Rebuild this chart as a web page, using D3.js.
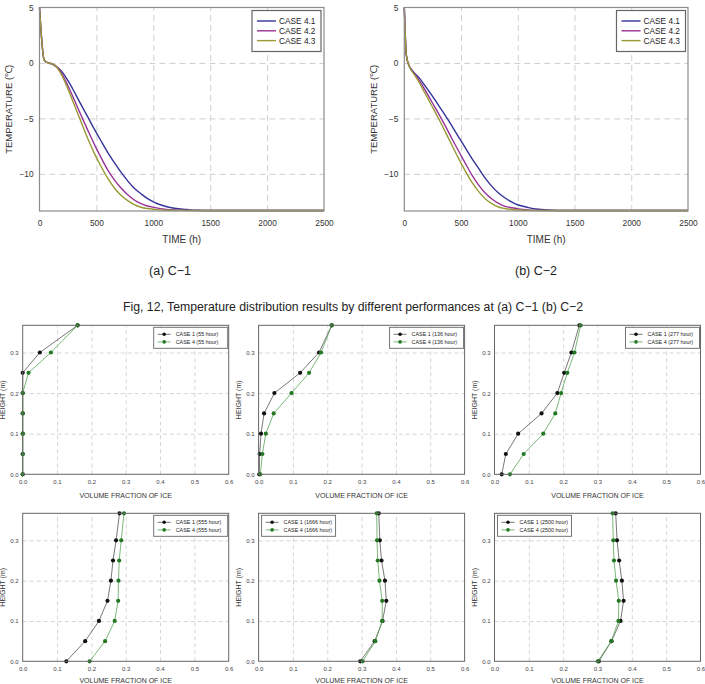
<!DOCTYPE html>
<html>
<head>
<meta charset="utf-8">
<script src="https://cdn.jsdelivr.net/npm/d3@7"></script>
<style>
  body { margin: 0; background: #fff; }
  svg { display: block; }
  text { font-family: "Liberation Sans", Arial, sans-serif; }
</style>
</head>
<body>
<svg id="chart" width="705" height="684"></svg>
<script>
/* DATA */
const tempCases = ['CASE 4.1', 'CASE 4.2', 'CASE 4.3'];
const tempTicks = [5, 0, -5, -10];
const timeTicks = [0, 500, 1000, 1500, 2000, 2500];

// (a) C-1
const timeC1 = [0, 40, 70, 100, 132, 190, 249, 307, 365, 424, 482, 541, 599, 658, 716, 775, 833, 892, 950, 1009, 1096, 1184, 1301, 1389, 1500, 2000, 2500];
const c1Case41 = [5, 0.3, 0.02, -0.05, -0.24, -0.69, -1.58, -2.63, -3.76, -4.87, -5.97, -7.04, -8.06, -8.99, -9.85, -10.63, -11.3, -11.8, -12.24, -12.57, -12.9, -13.1, -13.22, -13.28, -13.3, -13.3, -13.3];
const c1Case42 = [5, 0.3, 0.02, -0.05, -0.18, -0.84, -2.03, -3.37, -4.72, -6.06, -7.34, -8.54, -9.64, -10.54, -11.28, -11.88, -12.36, -12.69, -12.9, -13.03, -13.19, -13.26, -13.29, -13.3, -13.3, -13.3, -13.3];
const c1Case43 = [5, 0.3, 0.02, -0.05, -0.2, -0.99, -2.33, -3.82, -5.31, -6.81, -8.15, -9.34, -10.39, -11.28, -11.94, -12.42, -12.78, -13.01, -13.13, -13.2, -13.27, -13.29, -13.3, -13.3, -13.3, -13.3, -13.3];

// (b) C-2
const timeC2 = [0, 18, 38, 67, 97, 126, 185, 243, 302, 361, 419, 478, 537, 595, 654, 713, 772, 830, 889, 948, 1006, 1094, 1182, 1299, 1400, 2000, 2500];
const c2Case41 = [5, 0.7, -0.15, -0.62, -0.99, -1.28, -2.09, -2.93, -3.82, -4.72, -5.67, -6.66, -7.64, -8.6, -9.49, -10.39, -11.13, -11.73, -12.18, -12.54, -12.81, -13.04, -13.19, -13.28, -13.3, -13.3, -13.3];
const c2Case42 = [5, 0.7, -0.15, -0.69, -1.07, -1.49, -2.48, -3.52, -4.57, -5.67, -6.81, -7.94, -9.04, -10.09, -10.99, -11.73, -12.27, -12.66, -12.93, -13.06, -13.16, -13.25, -13.28, -13.3, -13.3, -13.3, -13.3];
const c2Case43 = [5, 0.7, -0.15, -0.75, -1.19, -1.67, -2.78, -3.88, -5.01, -6.21, -7.4, -8.6, -9.73, -10.75, -11.58, -12.24, -12.69, -12.99, -13.13, -13.22, -13.26, -13.29, -13.3, -13.3, -13.3, -13.3, -13.3];

// volume fraction of ice profiles
const heights = [0, 0.05, 0.1, 0.15, 0.2, 0.25, 0.3, 0.367];
const heightTicks = [0, 0.1, 0.2, 0.3];
const iceTicks = [0, 0.1, 0.2, 0.3, 0.4, 0.5, 0.6];
const hours = ['55', '136', '277', '555', '1666', '2500'];
const case1_55 = [0, 0, 0, 0, 0, 0, 0.05, 0.16];
const case4_55 = [0, 0, 0, 0, 0, 0.017, 0.082, 0.16];
const case1_136 = [0.002, 0.003, 0.007, 0.016, 0.046, 0.121, 0.176, 0.213];
const case4_136 = [0.005, 0.011, 0.021, 0.044, 0.096, 0.147, 0.182, 0.213];
const case1_277 = [0.021, 0.033, 0.069, 0.137, 0.183, 0.203, 0.224, 0.247];
const case4_277 = [0.045, 0.085, 0.142, 0.177, 0.194, 0.212, 0.233, 0.251];
const case1_555 = [0.127, 0.182, 0.222, 0.247, 0.257, 0.263, 0.272, 0.282];
const case4_555 = [0.195, 0.24, 0.268, 0.278, 0.279, 0.281, 0.287, 0.295];
const case1_1666 = [0.296, 0.338, 0.361, 0.372, 0.368, 0.358, 0.353, 0.35];
const case4_1666 = [0.303, 0.34, 0.36, 0.36, 0.352, 0.347, 0.345, 0.344];
const case1_2500 = [0.304, 0.341, 0.367, 0.376, 0.371, 0.363, 0.357, 0.353];
const case4_2500 = [0.301, 0.34, 0.361, 0.362, 0.354, 0.348, 0.346, 0.344];

const tempColors = ['#333399', '#993399', '#999933'];

const svg = d3.select('#chart');
svg.append('rect').attr('width', 705).attr('height', 684).attr('fill', '#fff');

/* TEMPERATURE CHARTS */
function drawTemp(x0, x1, times, series, yTitleX, legendX) {
  const top = 7.5, bottom = 211;
  const x = d3.scaleLinear().domain([0, 2500]).range([x0, x1]);
  const y = d3.scaleLinear().domain([-13.35, 5]).range([bottom, top]);
  const g = svg.append('g');

  // grid
  g.append('g')
    .attr('transform', `translate(0,${bottom})`)
    .call(d3.axisBottom(x).tickValues(timeTicks.slice(1, -1)).tickSize(-(bottom - top)).tickFormat(''))
    .call(a => a.select('.domain').remove())
    .selectAll('line').attr('stroke', '#cfcfcf').attr('stroke-dasharray', '6,4');
  g.append('g')
    .attr('transform', `translate(${x0},0)`)
    .call(d3.axisLeft(y).tickValues([0, -5, -10]).tickSize(-(x1 - x0)).tickFormat(''))
    .call(a => a.select('.domain').remove())
    .selectAll('line').attr('stroke', '#cfcfcf').attr('stroke-dasharray', '6,4');

  // tick labels
  g.append('g')
    .attr('transform', `translate(0,${bottom})`)
    .call(d3.axisBottom(x).tickValues(timeTicks).tickSize(0).tickPadding(9).tickFormat(d3.format('d')))
    .call(a => a.select('.domain').remove())
    .selectAll('text').attr('font-size', 8.3).attr('fill', '#333').attr('font-family', '"Liberation Sans", Arial, sans-serif');
  g.append('g')
    .attr('transform', `translate(${x0},0)`)
    .call(d3.axisLeft(y).tickValues(tempTicks).tickSize(0).tickPadding(6).tickFormat(d3.format('d')))
    .call(a => a.select('.domain').remove())
    .selectAll('text').attr('font-size', 8.3).attr('fill', '#333').attr('font-family', '"Liberation Sans", Arial, sans-serif');

  // lines
  const line = d3.line()
    .x((d, i) => x(times[i]))
    .y(d => y(d))
    .curve(d3.curveMonotoneX);
  series.forEach((s, i) => {
    g.append('path')
      .attr('d', line(s))
      .attr('fill', 'none')
      .attr('stroke', tempColors[i])
      .attr('stroke-width', 1.4);
  });

  // frame
  g.append('rect')
    .attr('x', x0).attr('y', top)
    .attr('width', x1 - x0).attr('height', bottom - top)
    .attr('fill', 'none').attr('stroke', '#8c8c8c').attr('stroke-width', 1.2);

  // axis titles
  g.append('text')
    .attr('x', (x0 + x1) / 2).attr('y', 243)
    .attr('text-anchor', 'middle').attr('font-size', 10).attr('fill', '#333')
    .text('TIME (h)');
  g.append('text')
    .attr('transform', `translate(${yTitleX},${(top + bottom) / 2}) rotate(-90)`)
    .attr('text-anchor', 'middle').attr('font-size', 9.5).attr('fill', '#333')
    .text('TEMPERATURE (℃)');

  // legend
  const lg = g.append('g').attr('transform', `translate(${legendX},10.5)`);
  lg.append('rect')
    .attr('width', 69).attr('height', 41)
    .attr('fill', '#fff').attr('stroke', '#666').attr('stroke-width', 1.2);
  tempCases.forEach((c, i) => {
    lg.append('line')
      .attr('x1', 5).attr('x2', 24)
      .attr('y1', 10.5 + i * 9.8).attr('y2', 10.5 + i * 9.8)
      .attr('stroke', tempColors[i]).attr('stroke-width', 1.4);
    lg.append('text')
      .attr('x', 27).attr('y', 10.5 + i * 9.8).attr('dy', '0.35em')
      .attr('font-size', 8.3).attr('fill', '#222')
      .text(c);
  });
}

drawTemp(39.5, 324, timeC1, [c1Case41, c1Case42, c1Case43], 12, 252);
drawTemp(404.3, 688, timeC2, [c2Case41, c2Case42, c2Case43], 377, 616.5);

/* CAPTIONS */
svg.append('text').attr('x', 170).attr('y', 275).attr('text-anchor', 'middle')
  .attr('font-size', 12.5).attr('fill', '#222').text('(a) C−1');
svg.append('text').attr('x', 536).attr('y', 275).attr('text-anchor', 'middle')
  .attr('font-size', 12.5).attr('fill', '#222').text('(b) C−2');
svg.append('text').attr('x', 123).attr('y', 311)
  .attr('font-size', 12.5).attr('fill', '#222')
  .attr('textLength', 460).attr('lengthAdjust', 'spacingAndGlyphs')
  .text('Fig, 12, Temperature distribution results by different performances at (a) C−1 (b) C−2');

/* ICE FRACTION CHARTS */
const icePanels = [
  [case1_55, case4_55], [case1_136, case4_136], [case1_277, case4_277],
  [case1_555, case4_555], [case1_1666, case4_1666], [case1_2500, case4_2500]
];
const colX = [22.7, 258.6, 494.5];
const rowY = [[325.3, 474.3], [513.3, 661.3]];
const legendLeft = [false, false, false, false, true, true];
const iceColors = { line: ['#555', '#5aa55a'], dot: ['#111', '#237823'] };

function drawIce(k) {
  const x0 = colX[k % 3], x1 = x0 + 206;
  const [top, bottom] = rowY[Math.floor(k / 3)];
  const x = d3.scaleLinear().domain([0, 0.6]).range([x0, x1]);
  const y = d3.scaleLinear().domain([0, 0.367]).range([bottom, top]);
  const g = svg.append('g');

  g.append('g')
    .attr('transform', `translate(0,${bottom})`)
    .call(d3.axisBottom(x).tickValues(iceTicks.slice(1, -1)).tickSize(-(bottom - top)).tickFormat(''))
    .call(a => a.select('.domain').remove())
    .selectAll('line').attr('stroke', '#d6d6d6').attr('stroke-dasharray', '4,3');
  g.append('g')
    .attr('transform', `translate(${x0},0)`)
    .call(d3.axisLeft(y).tickValues(heightTicks.slice(1)).tickSize(-(x1 - x0)).tickFormat(''))
    .call(a => a.select('.domain').remove())
    .selectAll('line').attr('stroke', '#d6d6d6').attr('stroke-dasharray', '4,3');

  g.append('g')
    .attr('transform', `translate(0,${bottom})`)
    .call(d3.axisBottom(x).tickValues(iceTicks).tickSize(0).tickPadding(5).tickFormat(d3.format('.1f')))
    .call(a => a.select('.domain').remove())
    .selectAll('text').attr('font-size', 6).attr('fill', '#444').attr('font-family', '"Liberation Sans", Arial, sans-serif');
  g.append('g')
    .attr('transform', `translate(${x0},0)`)
    .call(d3.axisLeft(y).tickValues(heightTicks).tickSize(0).tickPadding(4).tickFormat(d3.format('.1f')))
    .call(a => a.select('.domain').remove())
    .selectAll('text').attr('font-size', 6).attr('fill', '#444').attr('font-family', '"Liberation Sans", Arial, sans-serif');

  const line = d3.line().x(d => x(d)).y((d, i) => y(heights[i]));
  icePanels[k].forEach((s, j) => {
    g.append('path')
      .attr('d', line(s))
      .attr('fill', 'none')
      .attr('stroke', iceColors.line[j])
      .attr('stroke-width', 0.8);
    g.selectAll(null).data(s).enter().append('circle')
      .attr('cx', d => x(d))
      .attr('cy', (d, i) => y(heights[i]))
      .attr('r', 2.1)
      .attr('fill', iceColors.dot[j]);
  });

  g.append('rect')
    .attr('x', x0).attr('y', top)
    .attr('width', x1 - x0).attr('height', bottom - top)
    .attr('fill', 'none').attr('stroke', '#666').attr('stroke-width', 1);

  // x title: the lower row sits at the page edge, keep it inside
  g.append('text')
    .attr('x', (x0 + x1) / 2).attr('y', Math.min(bottom + 23.5, 682.5))
    .attr('text-anchor', 'middle').attr('font-size', 7).attr('fill', '#333')
    .text('VOLUME FRACTION OF ICE');
  g.append('text')
    .attr('transform', `translate(${x0 - 17.5},${(top + bottom) / 2}) rotate(-90)`)
    .attr('text-anchor', 'middle').attr('font-size', 7).attr('fill', '#333')
    .text('HEIGHT (m)');

  // legend
  const lx = legendLeft[k] ? x0 + 3 : x1 - 75;
  const lg = g.append('g').attr('transform', `translate(${lx},${top + 2})`);
  lg.append('rect')
    .attr('width', 74).attr('height', 21)
    .attr('fill', '#fff').attr('stroke', '#666').attr('stroke-width', 0.9);
  ['CASE 1', 'CASE 4'].forEach((c, j) => {
    const ly = 7 + j * 7.6;
    lg.append('line')
      .attr('x1', 4).attr('x2', 17).attr('y1', ly).attr('y2', ly)
      .attr('stroke', iceColors.line[j]).attr('stroke-width', 0.8);
    lg.append('circle').attr('cx', 10.5).attr('cy', ly).attr('r', 1.8).attr('fill', iceColors.dot[j]);
    lg.append('text')
      .attr('x', 22).attr('y', ly).attr('dy', '0.35em')
      .attr('font-size', 5.4).attr('fill', '#222')
      .text(`${c} (${hours[k]} hour)`);
  });
}

d3.range(6).forEach(drawIce);
</script>
</body>
</html>
